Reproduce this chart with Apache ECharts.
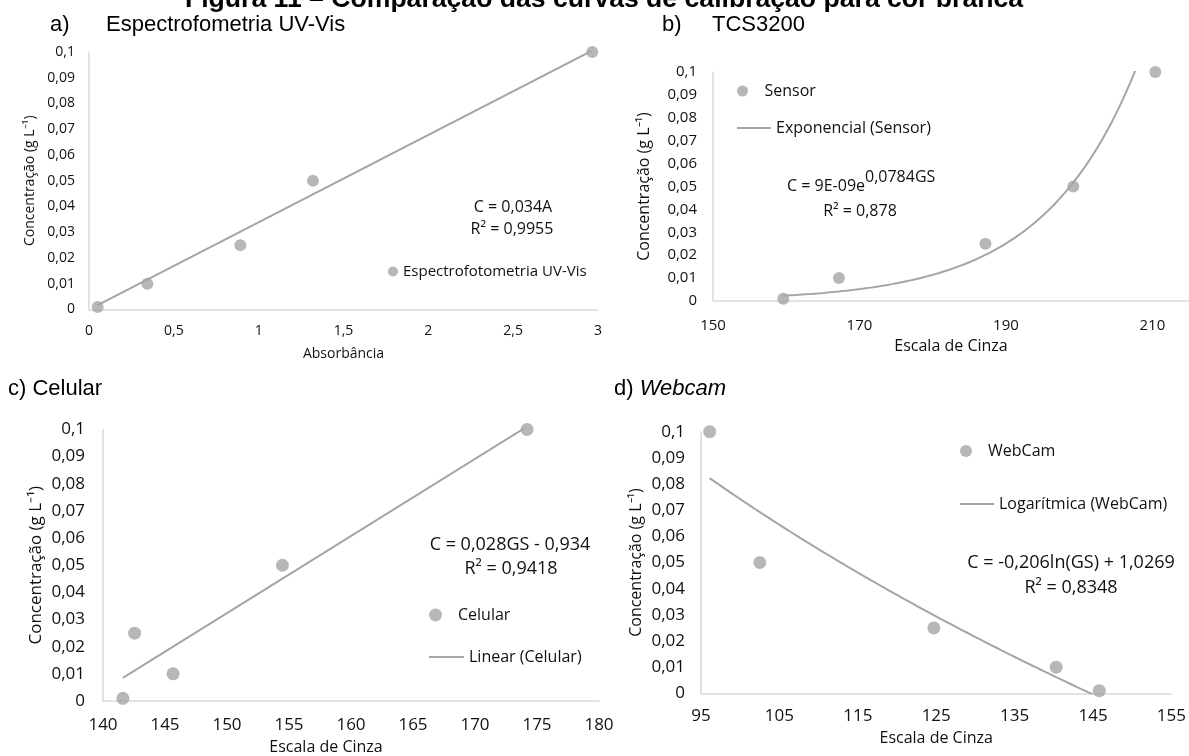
<!DOCTYPE html>
<html>
<head>
<meta charset="utf-8">
<script src="https://cdn.jsdelivr.net/npm/echarts@6/dist/echarts.min.js"></script>
<style>
  html, body { margin: 0; padding: 0; background: #ffffff; }
  #chart { width: 1189px; height: 756px; }
</style>
</head>
<body>
<div id="chart"></div>
<script>
// ---- Calibration data: concentration (g/L) against each instrument's response ----
// a) UV-Vis spectrophotometry (absorbance)
const absA  = [0.051, 0.344, 0.892, 1.32, 2.966];
const concA = [0.001, 0.01, 0.025, 0.05, 0.1];
// b) TCS3200 sensor (grey scale)
const gsB   = [159.6, 167.2, 187.2, 199.2, 210.4];
const concB = [0.001, 0.01, 0.025, 0.05, 0.1];
// c) mobile phone camera (grey scale)
const gsC   = [141.6, 142.55, 145.65, 154.47, 174.2];
const concC = [0.001, 0.025, 0.01, 0.05, 0.1];
// d) webcam (grey scale)
const gsD   = [96.1, 102.5, 124.7, 140.3, 145.8];
const concD = [0.1, 0.05, 0.025, 0.01, 0.001];

// axis ranges: [min, max, step]
const xAxisA = [0, 3, 0.5];
const xAxisB = [150, 215, 20];
const xAxisC = [140, 180, 5];
const xAxisD = [95, 155, 10];
const yAxisAll = [0, 0.1, 0.01];

// texts
const figTitle = 'Figura 11 – Comparação das curvas de calibração para cor branca';
const panelTags = ['a)', 'b)', 'c)', 'd)'];
const panelNames = ['Espectrofometria UV-Vis', 'TCS3200', 'Celular', 'Webcam'];
const seriesNames = ['Espectrofotometria UV-Vis', 'Sensor', 'Celular', 'WebCam'];
const trendNames = ['Linear (UV-Vis)', 'Exponencial (Sensor)', 'Linear (Celular)', 'Logarítmica (WebCam)'];
const eqA = ['C = 0,034A', 'R² = 0,9955'];
const eqB = ['C = 9E-09e', '0,0784GS', 'R² = 0,878'];
const eqC = ['C = 0,028GS - 0,934', 'R² = 0,9418'];
const eqD = ['C = -0,206ln(GS) + 1,0269', 'R² = 0,8348'];
const yName = 'Concentração (g L⁻¹)';
const xNames = ['Absorbância', 'Escala de Cinza'];

// ---- least-squares trendlines ----
function fitLine(xs, ys) {
  const n = xs.length;
  const mx = xs.reduce((s, v) => s + v, 0) / n;
  const my = ys.reduce((s, v) => s + v, 0) / n;
  let sxy = 0, sxx = 0;
  for (let i = 0; i < n; i++) { sxy += (xs[i] - mx) * (ys[i] - my); sxx += (xs[i] - mx) ** 2; }
  const m = sxy / sxx;
  return { m: m, b: my - m * mx };
}
function fitThroughOrigin(xs, ys) {
  let sxy = 0, sxx = 0;
  for (let i = 0; i < xs.length; i++) { sxy += xs[i] * ys[i]; sxx += xs[i] * xs[i]; }
  return sxy / sxx;
}
function sampleCurve(xs, fn, steps) {
  const lo = Math.min(...xs), hi = Math.max(...xs);
  const out = [];
  for (let i = 0; i <= steps; i++) { const x = lo + (hi - lo) * i / steps; out.push([x, fn(x)]); }
  return out;
}
const pairs = (xs, ys) => xs.map((x, i) => [x, ys[i]]);

const slopeA = fitThroughOrigin(absA, concA);
const trendA = sampleCurve(absA, x => slopeA * x, 1);
const expB = fitLine(gsB, concB.map(Math.log));
const trendB = sampleCurve(gsB, x => Math.exp(expB.b) * Math.exp(expB.m * x), 120);
const linC = fitLine(gsC, concC);
const trendC = sampleCurve(gsC, x => linC.m * x + linC.b, 1);
const logD = fitLine(gsD.map(Math.log), concD);
const trendD = sampleCurve(gsD, x => logD.m * Math.log(x) + logD.b, 120);

// ---- styling ----
const FONT = '"Open Sans", sans-serif';
const TITLE_FONT = '"Liberation Sans", Arial, sans-serif';
const GREY = '#a5a5a5';
const AXIS_GREY = '#d9d9d9';
const INK = '#111111';
const LINE_ICON = 'path://M0 0H34V2H0Z';
const comma = v => String(Math.round(v * 1000) / 1000).replace('.', ',');

const grids = [
  { left: 89,  top: 52,    width: 509, height: 257.5 },
  { left: 713, top: 72,    width: 481, height: 229 },
  { left: 103, top: 429.5, width: 496, height: 274.5 },
  { left: 701, top: 431.7, width: 478, height: 261.6 }
];

function xAxis(idx, range, name, fs, margin, nameGap, extra) {
  return Object.assign({
    type: 'value', gridIndex: idx, min: range[0], max: range[1], interval: range[2],
    name: name, nameLocation: 'middle', nameGap: nameGap,
    nameTextStyle: { fontFamily: FONT, fontSize: fs.name, color: INK },
    axisLine: { show: true, onZero: false, lineStyle: { color: AXIS_GREY, width: 1.5 } },
    axisTick: { show: false }, splitLine: { show: false },
    axisLabel: { formatter: comma, fontFamily: FONT, fontSize: fs.tick, color: INK, margin: margin }
  }, extra || {});
}
function yAxis(idx, fs, margin, nameGap) {
  return {
    type: 'value', gridIndex: idx, min: yAxisAll[0], max: yAxisAll[1], interval: yAxisAll[2],
    name: yName, nameLocation: 'middle', nameGap: nameGap, nameRotate: 90,
    nameTextStyle: { fontFamily: FONT, fontSize: fs.name, color: INK },
    axisLine: { show: true, onZero: false, lineStyle: { color: AXIS_GREY, width: 1.5 } },
    axisTick: { show: false }, splitLine: { show: false },
    axisLabel: { formatter: comma, fontFamily: FONT, fontSize: fs.tick, color: INK, margin: margin }
  };
}

function scatter(idx, name, data, size) {
  return { type: 'scatter', name: name, xAxisIndex: idx, yAxisIndex: idx, data: data,
           symbol: 'circle', symbolSize: size, itemStyle: { color: GREY }, z: 3, silent: true };
}
function trend(idx, name, data) {
  return { type: 'line', name: name, xAxisIndex: idx, yAxisIndex: idx, data: data,
           symbol: 'none', clip: true, lineStyle: { color: GREY, width: 2 },
           itemStyle: { color: GREY }, z: 2, silent: true };
}

function legendItem(name, left, top, w, h, fs, icon) {
  return { data: [icon ? { name: name, icon: icon } : { name: name, icon: 'circle' }],
           left: left, top: top, itemWidth: w, itemHeight: h, padding: 0,
           selectedMode: false, textStyle: { fontFamily: FONT, fontSize: fs, color: INK } };
}

function label(text, x, y, fs, align) {
  return { type: 'text', x: x, y: y, silent: true,
           style: { text: text, fontFamily: FONT, fontSize: fs, fill: INK,
                    align: align || 'center', verticalAlign: 'middle' } };
}
function heading(text, x, y, opts) {
  return { type: 'text', x: x, y: y, silent: true,
           style: Object.assign({ text: text, fontFamily: TITLE_FONT, fontSize: 22, fill: '#000',
                                  align: 'left', verticalAlign: 'middle' }, opts || {}) };
}

const option = {
  animation: false,
  backgroundColor: '#ffffff',
  grid: grids,
  xAxis: [
    xAxis(0, xAxisA, xNames[0], { tick: 14, name: 14 }, 15, 38),
    xAxis(1, xAxisB, xNames[1], { tick: 15, name: 16 }, 17, 37, { axisLabel: { formatter: comma, fontFamily: FONT, fontSize: 15, color: INK, margin: 17, showMaxLabel: false } }),
    xAxis(2, xAxisC, xNames[1], { tick: 17, name: 16 }, 16, 38, { nameTextStyle: { fontFamily: FONT, fontSize: 16, color: INK, padding: [0, 50, 0, 0] } }),
    xAxis(3, xAxisD, xNames[1], { tick: 17, name: 16 }, 14, 37)
  ],
  yAxis: [
    yAxis(0, { tick: 14, name: 14 }, 14, 52),
    yAxis(1, { tick: 15, name: 16 }, 16, 61),
    yAxis(2, { tick: 17, name: 17 }, 18, 58),
    yAxis(3, { tick: 17, name: 16 }, 16, 57)
  ],
  legend: [
    legendItem(seriesNames[0], 388, 264, 10, 10, 15),
    legendItem(seriesNames[1], 737, 83, 34, 11, 16),
    legendItem(trendNames[1], 737, 120, 34, 11, 16, LINE_ICON),
    legendItem(seriesNames[2], 429, 607, 35, 13, 16),
    legendItem(trendNames[2], 429, 649, 35, 13, 16, LINE_ICON),
    legendItem(seriesNames[3], 960, 443, 34, 12, 16),
    legendItem(trendNames[3], 960, 496, 34, 12, 16, LINE_ICON)
  ],
  series: [
    trend(0, trendNames[0], trendA),
    scatter(0, seriesNames[0], pairs(absA, concA), 12),
    scatter(1, seriesNames[1], pairs(gsB, concB), 12),
    trend(1, trendNames[1], trendB),
    scatter(2, seriesNames[2], pairs(gsC, concC), 13),
    trend(2, trendNames[2], trendC),
    scatter(3, seriesNames[3], pairs(gsD, concD), 13),
    trend(3, trendNames[3], trendD)
  ],
  graphic: [
    { type: 'text', x: 604, y: 0, silent: true,
      style: { text: figTitle, fontFamily: TITLE_FONT, fontSize: 26.6, fontWeight: 'bold', fill: '#000',
               align: 'center', verticalAlign: 'middle' } },
    heading(panelTags[0], 50, 25),
    heading(panelNames[0], 106, 25),
    heading(panelTags[1], 662, 25),
    heading(panelNames[1], 712, 25),
    heading(panelTags[2] + ' ' + panelNames[2], 8, 389),
    heading('{n|' + panelTags[3] + ' }{i|' + panelNames[3] + '}', 614, 389, {
      rich: {
        n: { fontFamily: TITLE_FONT, fontSize: 22, fill: '#000' },
        i: { fontFamily: TITLE_FONT, fontSize: 22, fill: '#000', fontStyle: 'italic' }
      }
    }),
    label(eqA[0], 513, 207, 16),
    label(eqA[1], 512, 229, 16),
    { type: 'text', x: 787, y: 181.5, silent: true,
      style: { text: '{n|' + eqB[0] + '}{s|' + eqB[1] + '}', align: 'left', verticalAlign: 'middle',
               rich: {
                 n: { fontFamily: FONT, fontSize: 16, fill: INK, lineHeight: 25, verticalAlign: 'bottom' },
                 s: { fontFamily: FONT, fontSize: 16, fill: INK, lineHeight: 25, verticalAlign: 'top' }
               } } },
    label(eqB[2], 860, 211, 16),
    label(eqC[0], 510, 545, 18),
    label(eqC[1], 511, 569, 18),
    label(eqD[0], 1071, 563, 18),
    label(eqD[1], 1071, 588, 18)
  ]
};

const chart = echarts.init(document.getElementById('chart'), null, { renderer: 'canvas' });
chart.setOption(option);
</script>
</body>
</html>
